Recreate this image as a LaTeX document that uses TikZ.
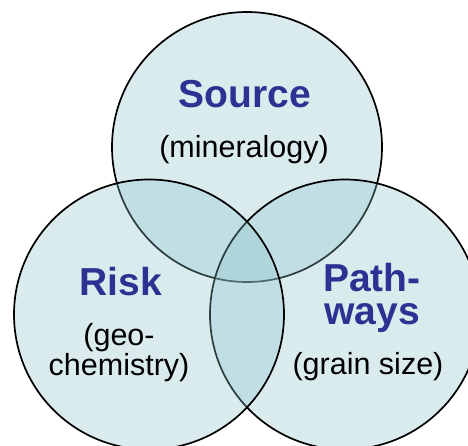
\documentclass[tikz,border=0pt]{standalone}
\usepackage{fontspec}
\setmainfont{Liberation Sans}
\definecolor{setfill}{RGB}{140,195,205}
\definecolor{titleblue}{RGB}{46,49,146}
\tikzset{
  setcircle/.style={circle, minimum size=270pt, inner sep=0pt,
    fill=setfill, fill opacity=0.32, draw=black, draw opacity=1, line width=1.7pt},
  titletext/.style={anchor=base, inner sep=0pt, text=titleblue, align=center,
    font=\fontsize{39}{33}\selectfont\bfseries},
  subtext/.style={anchor=base, inner sep=0pt, text=black, align=center,
    font=\fontsize{30.5}{28}\selectfont}
}
\begin{document}
\begin{tikzpicture}[x=1pt,y=-1pt]
  \fill[white] (0,0) rectangle (468,445);
  \useasboundingbox (0,0) rectangle (468,445);
  % three overlapping sets, drawn top, right, left
  \node[setcircle] (source) at (247,147) {};
  \node[setcircle] (pathways) at (345,314.5) {};
  \node[setcircle] (risk) at (149,314.5) {};
  % labels (base anchor of a two-line label sits on its last baseline)
  \node[titletext] (sourcet) at (245,107) {Source};
  \node[subtext] (sourcesub) at (244,157) {(mineralogy)};
  \node[titletext] (riskt) at (121,295) {Risk};
  \node[subtext] (risksub) at (119,375) {(geo-\\chemistry)};
  \node[titletext] (patht) at (372,324) {Path-\\ways};
  \node[subtext] (pathsub) at (368,374) {(grain size)};
\end{tikzpicture}
\end{document}
